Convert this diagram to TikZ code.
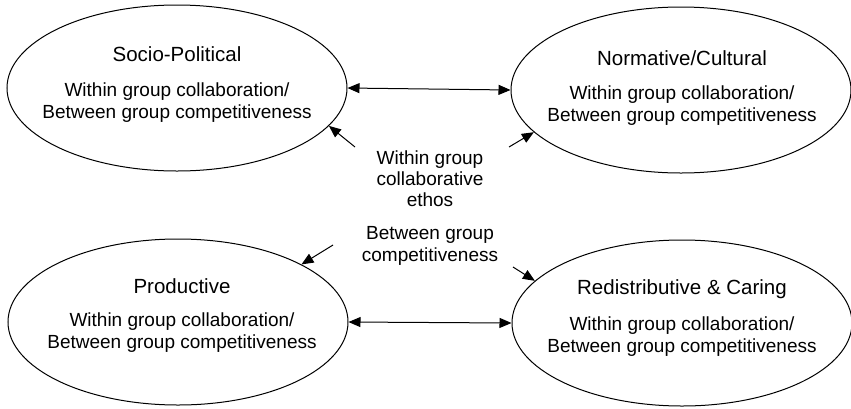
\documentclass[tikz,border=0pt]{standalone}
\usepackage{fontspec}
\setmainfont{Liberation Sans}
\usetikzlibrary{shapes.geometric,arrows.meta}
\tikzset{
  sphere/.style={ellipse, draw, line width=1pt, minimum width=340pt, minimum height=166pt, inner sep=0pt},
  title/.style={font=\fontsize{20.5}{24}\selectfont, inner sep=0pt},
  body/.style={font=\fontsize{19}{22}\selectfont, align=center, inner sep=0pt},
  conn/.style={line width=1pt, -{Triangle[length=12pt,width=10pt]}},
  dconn/.style={line width=1pt, {Triangle[length=12pt,width=10pt]}-{Triangle[length=12pt,width=10pt]}}
}
\begin{document}
\begin{tikzpicture}[x=1pt,y=-1pt]
\useasboundingbox (0,0) rectangle (851,408);
\node[sphere] (sp) at (177,88) {};
\node[sphere] (nc) at (681,90) {};
\node[sphere] (pr) at (178,322) {};
\node[sphere] (rc) at (682,323) {};

\node[title] (spt) at (177,54) {Socio-Political};
\node[body] (spb) at (177,103) {Within group collaboration/\\Between group competitiveness};
\node[title] (nct) at (682,58) {Normative/Cultural};
\node[body] (ncb) at (682,106) {Within group collaboration/\\Between group competitiveness};
\node[title] (prt) at (182,286) {Productive};
\node[body] (prb) at (182,333) {Within group collaboration/\\Between group competitiveness};
\node[title] (rct) at (682,289) {Redistributive \& Caring};
\node[body] (rcb) at (682,337) {Within group collaboration/\\Between group competitiveness};

\node[body, font=\fontsize{19}{21}\selectfont] (mid1) at (430,179) {Within group\\collaborative\\ethos};
\node[body] (mid2) at (430,246) {Between group\\competitiveness};

\draw[dconn] (sp.east) -- (nc.west);
\draw[dconn] (pr.east) -- (rc.west);

\coordinate (a1) at (355,147);
\coordinate (a2) at (509,147);
\coordinate (a3) at (333,245);
\coordinate (a4) at (513,267);
\draw[conn] (a1) -- (sp.-14);
\draw[conn] (a2) -- (nc.196);
\draw[conn] (a3) -- (pr.25);
\draw[conn] (a4) -- (rc.164);
\end{tikzpicture}
\end{document}
